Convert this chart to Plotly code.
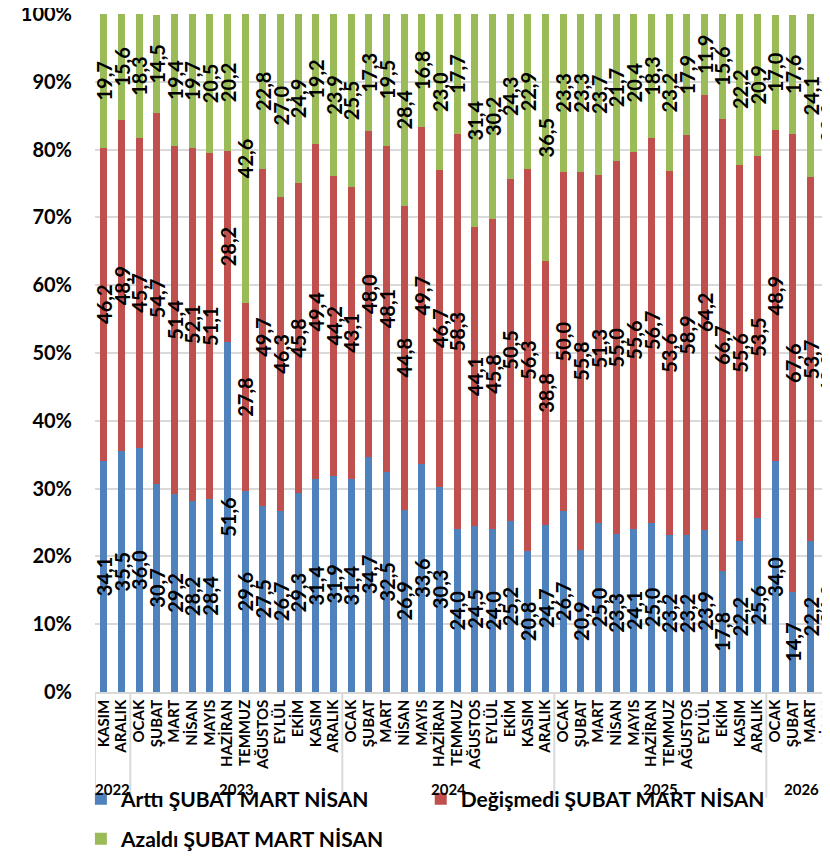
import plotly.graph_objects as go

years = ["2022"] * 2 + ["2023"] * 12 + ["2024"] * 12 + ["2025"] * 12 + ["2026"] * 4
months_full = ["OCAK", "ŞUBAT", "MART", "NİSAN", "MAYIS", "HAZİRAN", "TEMMUZ",
               "AĞUSTOS", "EYLÜL", "EKİM", "KASIM", "ARALIK"]
months = ["KASIM", "ARALIK"] + months_full * 3 + ["OCAK", "ŞUBAT", "MART", "NİSAN"]

artti = [34.1, 35.5,
         36.0, 30.7, 29.2, 28.2, 28.4, 51.6, 29.6, 27.5, 26.7, 29.3, 31.4, 31.9,
         31.4, 34.7, 32.5, 26.9, 33.6, 30.3, 24.0, 24.5, 24.0, 25.2, 20.8, 24.7,
         26.7, 20.9, 25.0, 23.3, 24.1, 25.0, 23.2, 23.2, 23.9, 17.8, 22.2, 25.6,
         34.0, 14.7, 22.2, 26.0]
degismedi = [46.2, 48.9,
             45.7, 54.7, 51.4, 52.1, 51.1, 28.2, 27.8, 49.7, 46.3, 45.8, 49.4, 44.2,
             43.1, 48.0, 48.1, 44.8, 49.7, 46.7, 58.3, 44.1, 45.8, 50.5, 56.3, 38.8,
             50.0, 55.8, 51.3, 55.0, 55.6, 56.7, 53.6, 58.9, 64.2, 66.7, 55.6, 53.5,
             48.9, 67.6, 53.7, 42.0]
azaldi = [19.7, 15.6,
          18.3, 14.5, 19.4, 19.7, 20.5, 20.2, 42.6, 22.8, 27.0, 24.9, 19.2, 23.9,
          25.5, 17.3, 19.5, 28.4, 16.8, 23.0, 17.7, 31.4, 30.2, 24.3, 22.9, 36.5,
          23.3, 23.3, 23.7, 21.7, 20.4, 18.3, 23.2, 17.9, 11.9, 15.6, 22.2, 20.9,
          17.0, 17.6, 24.1, 32.0]

series = [
    ("Arttı ŞUBAT MART NİSAN", artti, "#4F81BD", "legend"),
    ("Değişmedi ŞUBAT MART NİSAN", degismedi, "#C0504D", "legend2"),
    ("Azaldı ŞUBAT MART NİSAN", azaldi, "#9BBB59", "legend3"),
]

FONT = "Lato"
GRID = "#d9d9d9"
xpos = list(range(len(months)))

fig = go.Figure()
for name, vals, color, leg in series:
    fig.add_trace(go.Bar(
        x=xpos, y=vals, name=name,
        marker=dict(color=color, line=dict(width=0)),
        texttemplate="%{y:.1f}", textposition="inside", textangle=-90,
        insidetextanchor="middle", constraintext="none",
        textfont=dict(family=FONT, size=20, color="black", weight="bold"),
        legend=leg,
    ))

# year group labels and dividers, derived from the years list
groups = []
for i, y in enumerate(years):
    if not groups or groups[-1][0] != y:
        groups.append([y, i, i])
    else:
        groups[-1][2] = i

for y, a, b in groups:
    fig.add_annotation(x=(a + b) / 2, y=-0.143, xref="x", yref="paper",
                       text=y, showarrow=False, yanchor="middle",
                       font=dict(family=FONT, size=15, color="black", weight="bold"))
    fig.add_shape(type="line", xref="x", yref="paper", x0=a - 0.5, x1=a - 0.5,
                  y0=0, y1=-0.156, line=dict(color=GRID, width=2))

legfont = dict(family=FONT, size=21, color="black", weight="bold")
fig.update_layout(
    width=830, height=858,
    margin=dict(l=87, r=1, t=6, b=174, autoexpand=False),
    barmode="stack", bargap=0.59,
    separators=", ",
    plot_bgcolor="white", paper_bgcolor="white",
    font=dict(family=FONT, color="black"),
    xaxis=dict(
        range=[-0.5, 41.5], tickmode="array", tickvals=xpos, ticktext=months,
        tickangle=-90, tickfont=dict(family=FONT, size=15, color="black", weight="bold"),
        showline=True, linecolor=GRID, linewidth=1.5, ticklabeloverflow="allow",
        ticks="", showgrid=False, zeroline=False, automargin=False,
    ),
    yaxis=dict(
        range=[0, 100], tick0=0, dtick=10, ticksuffix="%",
        tickfont=dict(family=FONT, size=20, color="black", weight="bold"),
        showgrid=True, gridcolor=GRID, gridwidth=1.5, ticklabeloverflow="allow",
        zeroline=False, showline=False, ticklabelstandoff=22, automargin=False,
    ),
    legend=dict(orientation="h", x=-0.019, xanchor="left", y=-0.158, yanchor="middle",
                font=legfont, bgcolor="rgba(0,0,0,0)"),
    legend2=dict(orientation="h", x=0.439, xanchor="left", y=-0.158, yanchor="middle",
                 font=legfont, bgcolor="rgba(0,0,0,0)"),
    legend3=dict(orientation="h", x=-0.019, xanchor="left", y=-0.217, yanchor="middle",
                 font=legfont, bgcolor="rgba(0,0,0,0)"),
    showlegend=True,
)

fig.write_html("out.html")
